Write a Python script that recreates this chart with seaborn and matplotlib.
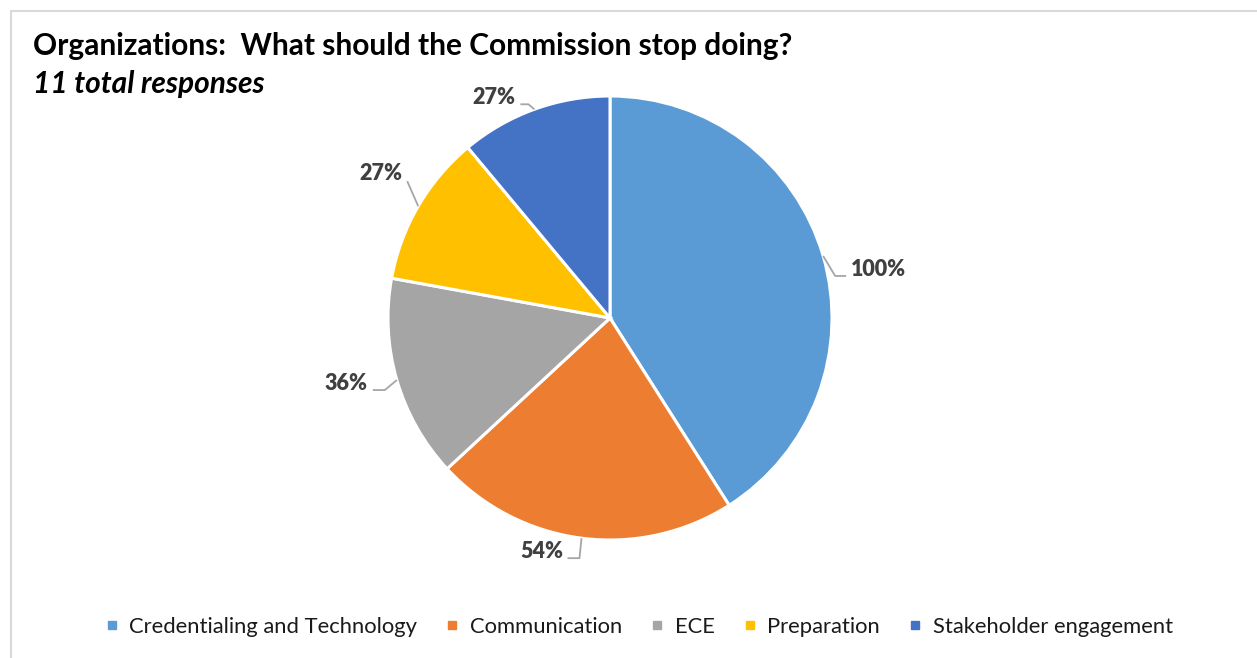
import numpy as np
import matplotlib
matplotlib.use("Agg")
import matplotlib.pyplot as plt
from matplotlib.lines import Line2D
from matplotlib.patches import Rectangle
import seaborn as sns

# Survey results: share of organizations naming each area
categories = ["Credentialing and Technology", "Communication", "ECE",
              "Preparation", "Stakeholder engagement"]
percents = [100, 54, 36, 27, 27]
colors = ["#5B9BD5", "#ED7D31", "#A5A5A5", "#FFC000", "#4472C4"]
title = "Organizations:  What should the Commission stop doing?"
subtitle = "11 total responses"

sns.set_theme(style="white")
plt.rcParams["font.family"] = ["Lato", "DejaVu Sans"]

W, H = 1257, 658
fig = plt.figure(figsize=(W / 100, H / 100), dpi=100)
ax = fig.add_axes([0, 0, 1, 1])
ax.set_xlim(0, W)
ax.set_ylim(0, H)
ax.set_aspect("equal")
ax.axis("off")

# chart frame (top/left edges visible)
ax.add_patch(Rectangle((10.5, -5), W + 10, H - 10.5 + 5, fill=False,
                       edgecolor="#D9D9D9", linewidth=1.5, zorder=0))

cx, cy, r = 610, H - 318, 222
wedges, _ = ax.pie(percents, colors=colors, startangle=90, counterclock=False,
                   center=(cx, cy), radius=r,
                   wedgeprops=dict(edgecolor="white", linewidth=2.2))
ax.set_xlim(0, W)
ax.set_ylim(0, H)

# leader-line layout: (elbow dx, elbow dy, run dx, text gap, text dy, side) in px
layout = [
    (12, 20, 11, 5, -6, "left"),
    (-2, 20, -12, 4, -7, "right"),
    (-12, 10, -12, 5, -7, "right"),
    (-11, -25, 0, 5, -8, "right"),
    (-6, -5, -8, 5, -7, "right"),
]
line_col = "#A6A6A6"
for w, p, (ex, ey, rx, gap, tdy, side) in zip(wedges, percents, layout):
    mid = np.deg2rad((w.theta1 + w.theta2) / 2)
    ax_x = cx + r * np.cos(mid)
    ax_y = cy + r * np.sin(mid)
    elx, ely = ax_x + ex, ax_y - ey
    endx = elx + rx
    xs = [ax_x, elx, endx]
    ys = [ax_y, ely, ely]
    ax.plot(xs, ys, color=line_col, linewidth=1.3, solid_capstyle="butt")
    tx = endx + gap if side == "left" else endx - gap
    ax.text(tx, ely - tdy, f"{p}%", ha=side, va="center",
            fontsize=15.5, fontweight="heavy", color="#404040")

fig.text(33 / W, 1 - 46 / H, title, fontsize=21.5, fontweight="bold",
         color="black", ha="left", va="center")
fig.text(33 / W, 1 - 84 / H, subtitle, fontsize=21.5, fontweight="bold",
         fontstyle="italic", color="black", ha="left", va="center")

handles = [Line2D([], [], marker="s", linestyle="none", markersize=6,
                  markerfacecolor=c, markeredgecolor=c) for c in colors]
fig.legend(handles, categories, loc="center", bbox_to_anchor=(639 / W, 1 - 627 / H),
           ncol=5, frameon=False, fontsize=15.8, handlelength=0.6,
           handletextpad=0.5, columnspacing=1.3, labelcolor="#1A1A1A")

fig.savefig("out.png", dpi=100, facecolor="white")
